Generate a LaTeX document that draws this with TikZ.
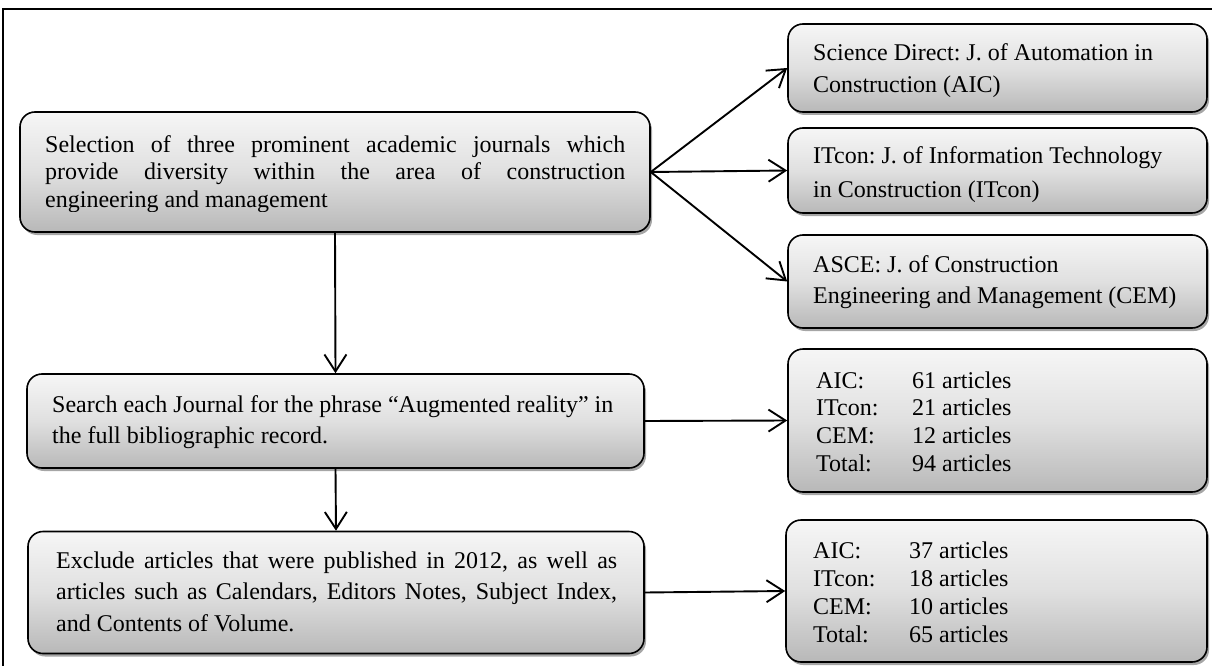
\documentclass[tikz,border=0pt]{standalone}
\usepackage{fontspec}
\setmainfont{Liberation Serif}
\usetikzlibrary{arrows.meta,shadows}
\definecolor{boxtop}{RGB}{246,246,246}
\definecolor{boxmid}{RGB}{224,224,224}
\definecolor{boxbot}{RGB}{184,184,184}
\begin{document}
\begin{tikzpicture}[x=1pt,y=-1pt,
  box/.style={draw=black, line width=1.6pt, rounded corners=15pt,
    top color=boxtop, bottom color=boxbot, middle color=boxmid, inner sep=0pt,
    drop shadow={shadow xshift=2pt, shadow yshift=-3pt, opacity=0.35, fill=black}},
  txt/.style={anchor=base west, inner sep=0pt},
  conn/.style={line width=1.9pt, -{Straight Barb[length=17pt,width=22pt]}}]
\useasboundingbox (0,0) rectangle (1212,666);
\fill[white] (0,0) rectangle (1212,666);
\draw[line width=1.5pt] (3,666) -- (3,9) -- (1212,9);

% boxes
\node[box, minimum width=630pt, minimum height=120pt] (b1) at (335,172) {};
\node[box, minimum width=617pt, minimum height=94pt] (b2) at (335.5,421) {};
\node[box, minimum width=616pt, minimum height=122pt] (b3) at (336,592.5) {};
\node[box, minimum width=419pt, minimum height=88pt] (rA) at (997.5,68) {};
\node[box, minimum width=419pt, minimum height=85pt] (rB) at (997.5,170.5) {};
\node[box, minimum width=419pt, minimum height=93pt] (rC) at (997.5,281.5) {};
\node[box, minimum width=419pt, minimum height=143pt] (r4) at (997.5,420.5) {};
\node[box, minimum width=421pt, minimum height=142pt] (r5) at (996.5,591) {};

% texts
\begin{scope}
\clip (20,112) rectangle (650,211.5);
\node[txt, font=\fontsize{24}{27.5}\selectfont\frenchspacing] (t1) at (45,152)
  {\vtop{\hbox to 580pt{Selection of three prominent academic journals which}
   \hbox to 580pt{provide diversity within the area of construction}
   \hbox{engineering and management}}};
\end{scope}
\node[txt, font=\fontsize{24}{31}\selectfont\frenchspacing] (t2) at (52,412)
  {\vtop{\hbox{Search each Journal for the phrase “Augmented reality” in}
   \hbox{the full bibliographic record.}}};
\node[txt, font=\fontsize{24}{31.5}\selectfont\frenchspacing] (t3) at (56,568)
  {\vtop{\hbox to 561pt{Exclude articles that were published in 2012, as well as}
   \hbox to 561pt{articles such as Calendars, Editors Notes, Subject Index,}
   \hbox{and Contents of Volume.}}};
\node[txt, font=\fontsize{24}{32}\selectfont\frenchspacing] (tA) at (813,61)
  {\vtop{\hbox{Science Direct: J. of Automation in}\hbox{Construction (AIC)}}};
\node[txt, font=\fontsize{24}{33}\selectfont\frenchspacing] (tB) at (813,164)
  {\vtop{\hbox{ITcon: J. of Information Technology}\hbox{in Construction (ITcon)}}};
\node[txt, font=\fontsize{24}{31}\selectfont\frenchspacing] (tC) at (813,272)
  {\vtop{\hbox{ASCE: J. of Construction}\hbox{Engineering and Management (CEM)}}};
\node[txt, font=\fontsize{24}{27.8}\selectfont\frenchspacing] (t4) at (816,388)
  {\vtop{\hbox{\makebox[96pt][l]{AIC:}61 articles}
   \hbox{\makebox[96pt][l]{ITcon:}21 articles}
   \hbox{\makebox[96pt][l]{CEM:}12 articles}
   \hbox{\makebox[96pt][l]{Total:}94 articles}}};
\node[txt, font=\fontsize{24}{28}\selectfont\frenchspacing] (t5) at (813,558)
  {\vtop{\hbox{\makebox[96pt][l]{AIC:}37 articles}
   \hbox{\makebox[96pt][l]{ITcon:}18 articles}
   \hbox{\makebox[96pt][l]{CEM:}10 articles}
   \hbox{\makebox[96pt][l]{Total:}65 articles}}};

% connectors
\draw[conn] (b1.east) -- (rA.west);
\draw[conn] (b1.east) -- (rB.west);
\draw[conn] (b1.east) -- (rC.west);
\draw[conn] (b1.south) -- (b2.north);
\draw[conn] (b2.south) -- (b3.north);
\draw[conn] (b2.east) -- (r4.west);
\draw[conn] (b3.east) -- (r5.west);
\end{tikzpicture}
\end{document}
